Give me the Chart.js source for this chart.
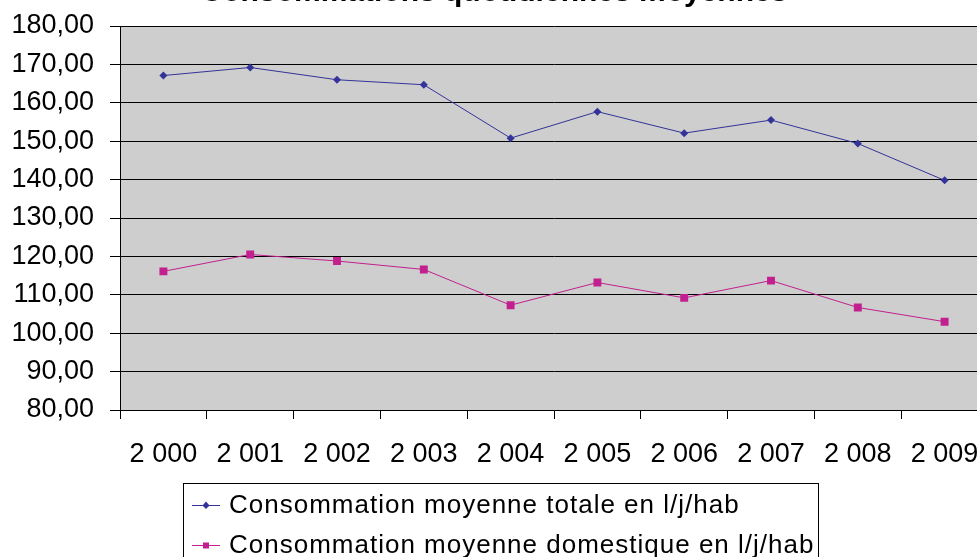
<!DOCTYPE html>
<html>
<head>
<meta charset="utf-8">
<script src="https://cdn.jsdelivr.net/npm/chart.js@4"></script>
<style>
    html, body { margin: 0; padding: 0; background: #fff; overflow: hidden; width: 977px; height: 557px; }
    #wrap { position: absolute; left: 0; top: -30px; width: 1000px; height: 600px; }
</style>
</head>
<body>
<div id="wrap"><canvas id="consoChart" width="1000" height="600"></canvas></div>
<script>
        // Data
        const years = ['2 000', '2 001', '2 002', '2 003', '2 004', '2 005', '2 006', '2 007', '2 008', '2 009'];
        const totalConso = [167.1, 169.2, 166.0, 164.7, 150.8, 157.7, 152.1, 155.5, 149.4, 139.8];
        const domesticConso = [116.1, 120.5, 118.8, 116.6, 107.3, 113.2, 109.2, 113.7, 106.7, 103.0];
        const yTickValues = [80, 90, 100, 110, 120, 130, 140, 150, 160, 170, 180];

        const totalLabel = 'Consommation moyenne totale en l/j/hab';
        const domesticLabel = 'Consommation moyenne domestique en l/j/hab';
        const titleText = 'Consommations quotidiennes moyennes';

        const fontFamily = '"Liberation Sans", Arial, sans-serif';
        const blue = '#333399';
        const pink = '#c2208e';

        // Gray plot background
        const plotBackground = {
            id: 'plotBackground',
            beforeDraw(chart) {
                const a = chart.chartArea;
                const ctx = chart.ctx;
                ctx.save();
                ctx.fillStyle = '#cecece';
                ctx.fillRect(a.left, a.top, a.right - a.left, a.bottom - a.top);
                ctx.restore();
            }
        };

        // Excel-like boxed legend with line + marker samples
        const boxedLegend = {
            id: 'boxedLegend',
            afterDraw(chart) {
                const ctx = chart.ctx;
                const boxLeft = 183, boxTop = 513, boxRight = 818;
                ctx.save();
                ctx.strokeStyle = '#000';
                ctx.lineWidth = 1;
                ctx.strokeRect(boxLeft + 0.5, boxTop + 0.5, boxRight - boxLeft, 200);

                chart.data.datasets.forEach((ds, i) => {
                    const cy = 535 + i * 40;
                    ctx.strokeStyle = ds.borderColor;
                    ctx.lineWidth = 1;
                    ctx.beginPath();
                    ctx.moveTo(192, cy + 0.5);
                    ctx.lineTo(220, cy + 0.5);
                    ctx.stroke();
                    ctx.fillStyle = ds.backgroundColor;
                    ctx.beginPath();
                    if (ds.pointStyle === 'rectRot') {
                        ctx.moveTo(206, cy - 3.5);
                        ctx.lineTo(209.5, cy + 0.5);
                        ctx.lineTo(206, cy + 4);
                        ctx.lineTo(202.5, cy + 0.5);
                    } else {
                        ctx.rect(203, cy - 2.5, 6, 6);
                    }
                    ctx.closePath();
                    ctx.fill();

                    ctx.fillStyle = '#000';
                    ctx.font = '26px ' + fontFamily;
                    ctx.letterSpacing = '1px';
                    ctx.textBaseline = 'middle';
                    ctx.textAlign = 'left';
                    ctx.fillText(ds.label, 229, cy + 1);
                    ctx.letterSpacing = '0px';
                });
                ctx.restore();
            }
        };

        window.addEventListener('load', function() {
            const ctx = document.getElementById('consoChart');
            new Chart(ctx, {
                type: 'line',
                data: {
                    labels: years,
                    datasets: [{
                        label: totalLabel,
                        data: totalConso,
                        borderColor: blue,
                        backgroundColor: blue,
                        borderWidth: 1,
                        pointStyle: 'rectRot',
                        pointRadius: 4,
                        pointBorderWidth: 0,
                        tension: 0
                    }, {
                        label: domesticLabel,
                        data: domesticConso,
                        borderColor: pink,
                        backgroundColor: pink,
                        borderWidth: 1,
                        pointStyle: 'rect',
                        pointRadius: 5.6,
                        pointBorderWidth: 0,
                        tension: 0
                    }]
                },
                options: {
                    responsive: false,
                    animation: false,
                    layout: {
                        padding: { top: 0, right: 12, bottom: 100, left: 0 }
                    },
                    plugins: {
                        legend: { display: false },
                        tooltip: { enabled: false },
                        title: {
                            display: true,
                            text: titleText,
                            color: '#000',
                            font: { family: fontFamily, size: 30, weight: 'bold' },
                            padding: { top: 5, bottom: 15 }
                        }
                    },
                    scales: {
                        x: {
                            offset: true,
                            grid: {
                                offset: true,
                                drawOnChartArea: false,
                                drawTicks: true,
                                tickLength: 9,
                                color: '#000'
                            },
                            border: { color: '#000', width: 1 },
                            ticks: {
                                color: '#000',
                                padding: 19,
                                maxRotation: 0,
                                autoSkip: false,
                                font: { family: fontFamily, size: 27 }
                            },
                            afterFit(scale) { scale.height = 60; }
                        },
                        y: {
                            min: 80,
                            max: 180,
                            afterBuildTicks(scale) {
                                scale.ticks = yTickValues.map(v => ({ value: v }));
                            },
                            grid: {
                                color: '#000',
                                tickLength: 10
                            },
                            border: { color: '#000', width: 1 },
                            ticks: {
                                color: '#000',
                                padding: 16,
                                font: { family: fontFamily, size: 27 },
                                callback: value => value.toFixed(2).replace('.', ',')
                            },
                            afterFit(scale) { scale.width = 120; }
                        }
                    }
                },
                plugins: [plotBackground, boxedLegend]
            });
        });
</script>
</body>
</html>
